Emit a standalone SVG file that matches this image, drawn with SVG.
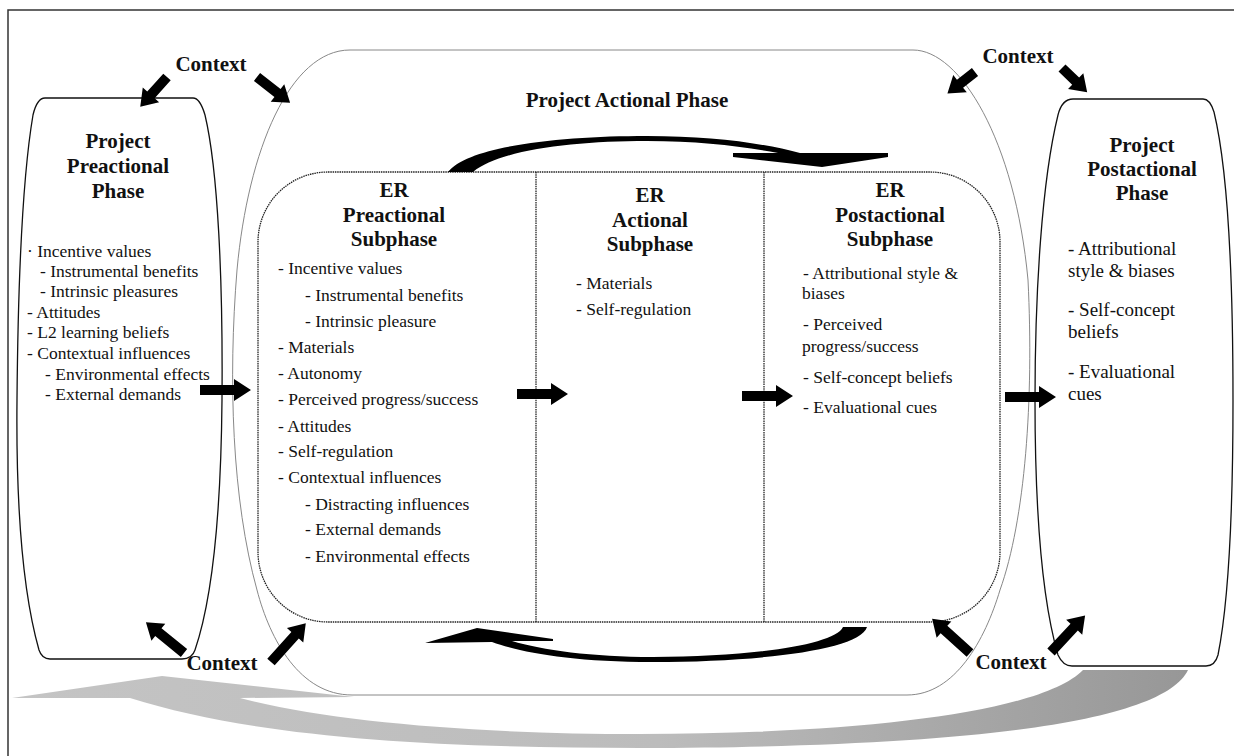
<svg xmlns="http://www.w3.org/2000/svg" width="1234" height="756" viewBox="0 0 1234 756">
<style>
.t{font-family:"Liberation Serif","Times New Roman",serif;fill:#111}
.h{font-weight:bold;font-size:21px;text-anchor:middle}
.b{font-size:17.5px}
.r{font-size:19px}
.node{fill:none;stroke:#111;stroke-width:1.3}
.phase{fill:none;stroke:#888;stroke-width:1}
.er{fill:none;stroke:#222;stroke-width:1.3;stroke-dasharray:1.5 0.8}
.blk{fill:#000}
</style>
<defs>
<linearGradient id="gray" x1="12" y1="0" x2="1188" y2="0" gradientUnits="userSpaceOnUse">
<stop offset="0" stop-color="#c4c4c4"/>
<stop offset="0.55" stop-color="#bcbcbc"/>
<stop offset="1" stop-color="#979797"/>
</linearGradient>
</defs>
<rect width="1234" height="756" fill="#fff"/>
<path d="M8,756 V10 H1234" fill="none" stroke="#333" stroke-width="1.5"/>

<g id="feedback-arrow">
<path d="M12,698 L162,676 L354,697 L240,698 C330,722 480,734 640,734 C850,734 1040,714 1083,670 L1188,670 C1165,718 1000,747 640,748 C420,748 250,736 130,698 Z" fill="url(#gray)"/>
</g>

<g id="project-preactional">
<path class="node" d="M45,98 L193,98 Q200,98 205,115 C218,170 223,280 222,400 C221,510 212,600 195,650 Q192,659 182,659 L50,659 Q42,659 39,650 C22,590 16,500 17,400 C18,280 22,180 33,115 Q37,98 45,98 Z"/>
<text class="t h" x="118" y="148">Project</text>
<text class="t h" x="118" y="173">Preactional</text>
<text class="t h" x="118" y="198">Phase</text>
<text class="t b" x="27" y="257">· Incentive values</text>
<text class="t b" x="40" y="277">- Instrumental benefits</text>
<text class="t b" x="40" y="297">- Intrinsic pleasures</text>
<text class="t b" x="27" y="318">- Attitudes</text>
<text class="t b" x="27" y="338">- L2 learning beliefs</text>
<text class="t b" x="27" y="359">- Contextual influences</text>
<text class="t b" x="45" y="380">- Environmental effects</text>
<text class="t b" x="45" y="400">- External demands</text>
</g>

<g id="project-actional">
<path class="phase" d="M350,50 L913,50 C960,50 1015,140 1028,280 C1034,400 1025,520 1000,590 C985,640 955,695 907,695 L352,695 C300,695 270,640 257,590 C232,500 228,380 237,270 C248,150 290,50 350,50 Z"/>
<text class="t h" x="627" y="107">Project Actional Phase</text>
</g>

<g id="er-box">
<rect class="er" x="258" y="172" width="742" height="450" rx="70" ry="70"/>
<line class="er" x1="536" y1="172" x2="536" y2="622"/>
<line class="er" x1="764" y1="172" x2="764" y2="622"/>
</g>

<g id="er-preactional">
<text class="t h" x="394" y="197">ER</text>
<text class="t h" x="394" y="222">Preactional</text>
<text class="t h" x="394" y="246">Subphase</text>
<text class="t b" x="278" y="274">- Incentive values</text>
<text class="t b" x="305" y="301">- Instrumental benefits</text>
<text class="t b" x="305" y="327">- Intrinsic pleasure</text>
<text class="t b" x="278" y="353">- Materials</text>
<text class="t b" x="278" y="379">- Autonomy</text>
<text class="t b" x="278" y="405">- Perceived progress/success</text>
<text class="t b" x="278" y="432">- Attitudes</text>
<text class="t b" x="278" y="457">- Self-regulation</text>
<text class="t b" x="278" y="483">- Contextual influences</text>
<text class="t b" x="305" y="510">- Distracting influences</text>
<text class="t b" x="305" y="535">- External demands</text>
<text class="t b" x="305" y="562">- Environmental effects</text>
</g>

<g id="er-actional">
<text class="t h" x="650" y="202">ER</text>
<text class="t h" x="650" y="227">Actional</text>
<text class="t h" x="650" y="251">Subphase</text>
<text class="t b" x="576" y="289">- Materials</text>
<text class="t b" x="576" y="315">- Self-regulation</text>
</g>

<g id="er-postactional">
<text class="t h" x="890" y="197">ER</text>
<text class="t h" x="890" y="222">Postactional</text>
<text class="t h" x="890" y="246">Subphase</text>
<text class="t b" x="803" y="279">- Attributional style &amp;</text>
<text class="t b" x="802" y="299">biases</text>
<text class="t b" x="803" y="330">- Perceived</text>
<text class="t b" x="802" y="352">progress/success</text>
<text class="t b" x="803" y="383">- Self-concept beliefs</text>
<text class="t b" x="803" y="413">- Evaluational cues</text>
</g>

<g id="project-postactional">
<path class="node" d="M1073,99 L1203,99 Q1210,99 1214,112 C1228,170 1233,280 1233,400 C1233,510 1229,600 1218,655 Q1215,666 1206,666 L1072,666 Q1063,666 1058,655 C1042,600 1035,510 1035,400 C1035,290 1042,180 1058,115 Q1062,99 1073,99 Z"/>
<text class="t h" x="1142" y="152">Project</text>
<text class="t h" x="1142" y="176">Postactional</text>
<text class="t h" x="1142" y="200">Phase</text>
<text class="t r" x="1068" y="255">- Attributional</text>
<text class="t r" x="1068" y="277">style &amp; biases</text>
<text class="t r" x="1068" y="316">- Self-concept</text>
<text class="t r" x="1068" y="338">beliefs</text>
<text class="t r" x="1068" y="378">- Evaluational</text>
<text class="t r" x="1068" y="400">cues</text>
</g>

<g id="context-top-left"><text class="t h" x="211" y="71">Context</text></g>
<g id="context-top-right"><text class="t h" x="1018" y="63">Context</text></g>
<g id="context-bottom-left"><text class="t h" x="222" y="670">Context</text></g>
<g id="context-bottom-right"><text class="t h" x="1011" y="669">Context</text></g>

<g id="connectors">
<path class="blk" d="M0,-5 H34 V-11 L51,0 L34,11 V5 H0 Z" transform="translate(200,390)"/>
<path class="blk" d="M0,-5 H34 V-11 L51,0 L34,11 V5 H0 Z" transform="translate(517,394)"/>
<path class="blk" d="M0,-5 H34 V-11 L51,0 L34,11 V5 H0 Z" transform="translate(742,396)"/>
<path class="blk" d="M0,-5 H34 V-11 L51,0 L34,11 V5 H0 Z" transform="translate(1005,397)"/>
<path class="blk" d="M0,-5 H24 V-11 L40,0 L24,11 V5 H0 Z" transform="translate(167,77) rotate(132)"/>
<path class="blk" d="M0,-5 H26 V-11 L42,0 L26,11 V5 H0 Z" transform="translate(257,77) rotate(38)"/>
<path class="blk" d="M0,-5 H19 V-11 L35,0 L19,11 V5 H0 Z" transform="translate(975,72) rotate(142)"/>
<path class="blk" d="M0,-5 H19 V-11 L35,0 L19,11 V5 H0 Z" transform="translate(1062,68) rotate(44)"/>
<path class="blk" d="M0,-5 H33 V-11 L49,0 L33,11 V5 H0 Z" transform="translate(184,653) rotate(219)"/>
<path class="blk" d="M0,-5 H36 V-11 L52,0 L36,11 V5 H0 Z" transform="translate(271,662) rotate(-48)"/>
<path class="blk" d="M0,-5 H35 V-11 L51,0 L35,11 V5 H0 Z" transform="translate(970,653) rotate(222)"/>
<path class="blk" d="M0,-5 H34 V-11 L50,0 L34,11 V5 H0 Z" transform="translate(1051,652) rotate(-47)"/>
<path class="blk" d="M448,172 C468,146 560,136 647,136 C712,136 762,143 800,153 L888,153 L888,157 L822,167 L733,157 L733,153 L778,153 C740,146 700,141 647,141 C572,141 500,150 473,172 Z"/>
<path class="blk" d="M867,627 C860,650 760,662 653,662 C570,662 520,652 492,642 L425,643 L477,628 L553,639 L553,641 L512,641 C542,650 592,657 653,657 C750,657 835,645 843,627 Z"/>
</g>
</svg>
